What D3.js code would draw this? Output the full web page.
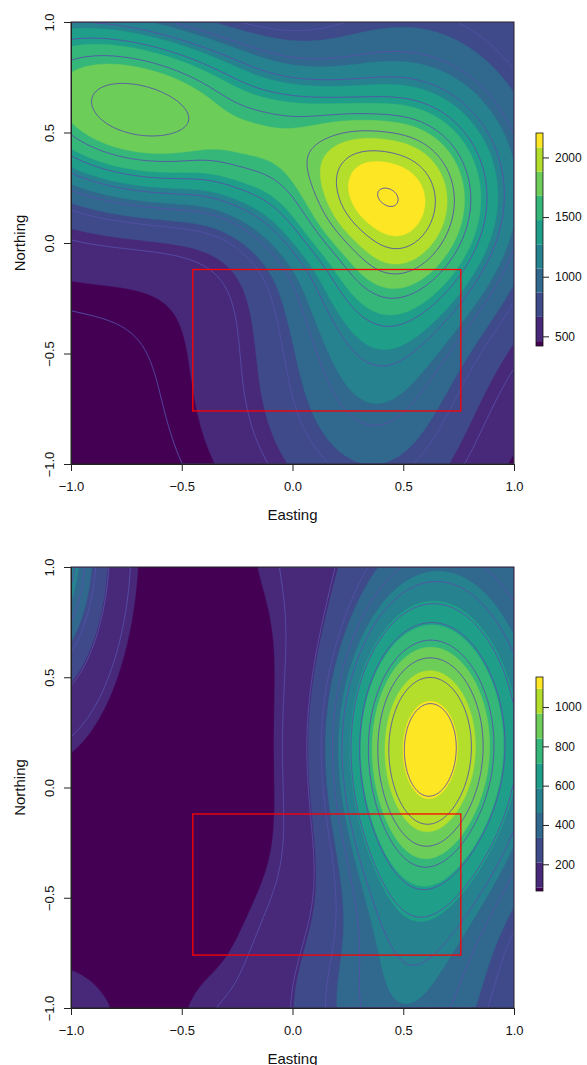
<!DOCTYPE html>
<html>
<head>
<meta charset="utf-8">
<script src="https://cdn.jsdelivr.net/npm/d3@7"></script>
<style>
body { margin: 0; background: #fff; }
svg { display: block; }
text { font-family: "Liberation Sans", Arial, sans-serif; fill: #111; }
</style>
</head>
<body>
<div id="chart"></div>
<script>
const xTicks = [-1, -0.5, 0, 0.5, 1]
const yTicks = [-1, -0.5, 0, 0.5, 1]

// viridis(10)
const binColors = ['#440154', '#482878', '#3E4A89', '#31688E', '#26828E',
	'#1F9E89', '#35B779', '#6DCD59', '#B4DE2C', '#FDE725']

// surface bumps: x, y, height, sx, sy, angle (deg), shape
const topBase = 280
const topBumps = [
	[0.7, 0.5, 400, 0.9, 0.9, 0, 1],
	[0.42, -0.5, 450, 0.3, 0.62, 0, 1],
	[0.1, -0.8, 230, 0.42, 0.45, 0, 1],
	[-0.75, 0.62, 1415, 0.62, 0.32, -13, 1.2],
	[0.5, 0.2, 1225, 0.34, 0.36, 0, 1],
	[0.45, 1.1, 100, 0.5, 0.4, 0, 1],
	[0.03, 0.32, 145, 0.3, 0.32, -20, 2],
	[-1.1, 0.1, 180, 0.4, 0.3, 0, 1],
	[-1.1, 1.1, 120, 0.35, 0.25, 0, 1]
]
const topBreaks = [460, 663, 866, 1069, 1272, 1475, 1678, 1881, 2084]
const topRange = [419, 2205]
const topLevels = [400, 600, 800, 1000, 1200, 1400, 1600, 1800, 2000, 2200]
const topLegendTicks = [500, 1000, 1500, 2000]

const bottomBase = 40
const bottomBumps = [
	[0.59, 0.185, 985, 0.29, 0.48, 0, 1.15],
	[0.47, -1.05, 360, 0.37, 0.42, 0, 1],
	[0.55, -0.5, 100, 0.25, 0.3, 0, 1],
	[1.3, 0.2, 300, 0.5, 0.7, 0, 1],
	[0.7, 1.2, 185, 0.5, 0.4, 0, 1],
	[-1.15, 1.1, 700, 0.188, 0.42, 0, 1],
	[-1.1, -1.1, 65, 0.3, 0.3, 0, 1],
	[-0.38, -1.1, 30, 0.12, 0.2, 0, 1]
]
const bottomBreaks = [81, 208, 334, 461, 587, 714, 840, 967, 1093]
const bottomRange = [64, 1153]
const bottomLevels = [100, 200, 300, 400, 500, 600, 700, 800, 900, 1000, 1100]
const bottomLegendTicks = [200, 400, 600, 800, 1000]

// red window
const boxX = [-0.45, 0.76]
const boxY = [-0.76, -0.12]

const width = 587, height = 1065
const plotLeft = 71, plotRight = 514
const n = 220

const svg = d3.select('#chart')
.append('svg')
.attr('width', width)
.attr('height', height)

const fmt = d => d3.format('.1f')(d).replace('-', '\u2212')

function surface(base, bumps, x, y) {
	let v = base
	for (const [cx, cy, a, sx, sy, ang, p] of bumps) {
		const t = ang * Math.PI / 180
		const dx = x - cx, dy = y - cy
		const u = dx * Math.cos(t) + dy * Math.sin(t)
		const w = -dx * Math.sin(t) + dy * Math.cos(t)
		const q = (u / sx) ** 2 + (w / sy) ** 2
		v += a * Math.exp(-0.5 * Math.pow(q, p))
	}
	return v
}

function drawPanel(id, top, bottom, base, bumps, breaks, range, levels, legendTicks, legendTop, legendBottom) {
	const xScale = d3.scaleLinear().domain([-1, 1]).range([plotLeft, plotRight])
	const yScale = d3.scaleLinear().domain([-1, 1]).range([bottom, top])

	const values = new Array(n * n)
	for (let j = 0; j < n; j++) {
		for (let i = 0; i < n; i++) {
			const x = -1 + (i + 0.5) * 2 / n
			const y = 1 - (j + 0.5) * 2 / n
			values[j * n + i] = surface(base, bumps, x, y)
		}
	}

	const proj = d3.geoTransform({
		point: function(px, py) {
			this.stream.point(xScale(-1 + px * 2 / n), yScale(1 - py * 2 / n))
		}
	})
	const path = d3.geoPath(proj)

	svg.append('clipPath').attr('id', 'clip' + id)
	.append('rect')
	.attr('x', plotLeft).attr('y', top)
	.attr('width', plotRight - plotLeft).attr('height', bottom - top)

	const g = svg.append('g').attr('clip-path', `url(#clip${id})`)

	g.append('rect')
	.attr('x', plotLeft).attr('y', top)
	.attr('width', plotRight - plotLeft).attr('height', bottom - top)
	.attr('fill', binColors[0])

	const bands = d3.contours().size([n, n]).thresholds(breaks)(values)
	g.selectAll('.band')
	.data(bands)
	.join('path')
	.attr('class', 'band')
	.attr('d', path)
	.attr('fill', (d, i) => binColors[i + 1])
	.attr('stroke', (d, i) => binColors[i + 1])
	.attr('stroke-width', 0.4)

	const lines = d3.contours().size([n, n]).thresholds(levels)(values)
	g.selectAll('.level')
	.data(lines)
	.join('path')
	.attr('class', 'level')
	.attr('d', path)
	.attr('fill', 'none')
	.attr('stroke', '#5650A8')
	.attr('stroke-width', 0.9)

	svg.append('rect')
	.attr('x', xScale(boxX[0])).attr('y', yScale(boxY[1]))
	.attr('width', xScale(boxX[1]) - xScale(boxX[0]))
	.attr('height', yScale(boxY[0]) - yScale(boxY[1]))
	.attr('fill', 'none')
	.attr('stroke', '#ff0000')
	.attr('stroke-width', 1.3)

	svg.append('rect')
	.attr('x', plotLeft).attr('y', top)
	.attr('width', plotRight - plotLeft).attr('height', bottom - top)
	.attr('fill', 'none')
	.attr('stroke', '#222')
	.attr('stroke-width', 1)

	const xAxis = svg.append('g')
	.attr('transform', `translate(0, ${bottom})`)
	.call(d3.axisBottom(xScale).tickValues(xTicks).tickFormat(fmt).tickSize(7).tickSizeOuter(0).tickPadding(11))
	xAxis.selectAll('text').attr('font-size', 13).attr('fill', '#111')
	xAxis.selectAll('line, path').attr('stroke', '#222')

	const yAxis = svg.append('g')
	.attr('transform', `translate(${plotLeft}, 0)`)
	.call(d3.axisLeft(yScale).tickValues(yTicks).tickFormat(fmt).tickSize(7).tickSizeOuter(0))
	yAxis.selectAll('text')
	.attr('font-size', 13)
	.attr('fill', '#111')
	.attr('transform', 'rotate(-90)')
	.attr('text-anchor', 'middle')
	.attr('x', 0)
	.attr('y', -17.5)
	.attr('dy', 0)
	yAxis.selectAll('line, path').attr('stroke', '#222')

	svg.append('text')
	.attr('x', (plotLeft + plotRight) / 2)
	.attr('y', bottom + 56)
	.attr('text-anchor', 'middle')
	.attr('font-size', 15)
	.text('Easting')

	svg.append('text')
	.attr('transform', `translate(25, ${(top + bottom) / 2}) rotate(-90)`)
	.attr('text-anchor', 'middle')
	.attr('font-size', 15)
	.text('Northing')

	// colour key
	const legX = 536, legW = 7
	const yLeg = d3.scaleLinear().domain(range).range([legendBottom, legendTop])
	const edges = [range[0], ...breaks, range[1]]
	svg.selectAll('.key' + id)
	.data(d3.pairs(edges))
	.join('rect')
	.attr('class', 'key' + id)
	.attr('x', legX)
	.attr('y', d => yLeg(d[1]))
	.attr('width', legW)
	.attr('height', d => yLeg(d[0]) - yLeg(d[1]))
	.attr('fill', (d, i) => binColors[i])

	svg.append('rect')
	.attr('x', legX).attr('y', legendTop)
	.attr('width', legW).attr('height', legendBottom - legendTop)
	.attr('fill', 'none')
	.attr('stroke', '#111')
	.attr('stroke-width', 0.8)

	const legAxis = svg.append('g')
	.attr('transform', `translate(${legX + legW}, 0)`)
	.call(d3.axisRight(yLeg).tickValues(legendTicks).tickFormat(d3.format('d')).tickSize(6).tickSizeOuter(0).tickPadding(6))
	legAxis.select('.domain').remove()
	legAxis.selectAll('text').attr('font-size', 12).attr('fill', '#111')
	legAxis.selectAll('line').attr('stroke', '#222')
}

drawPanel(1, 22, 464, topBase, topBumps, topBreaks, topRange, topLevels, topLegendTicks, 133, 346)
drawPanel(2, 567, 1008, bottomBase, bottomBumps, bottomBreaks, bottomRange, bottomLevels, bottomLegendTicks, 677, 891)
</script>
</body>
</html>
